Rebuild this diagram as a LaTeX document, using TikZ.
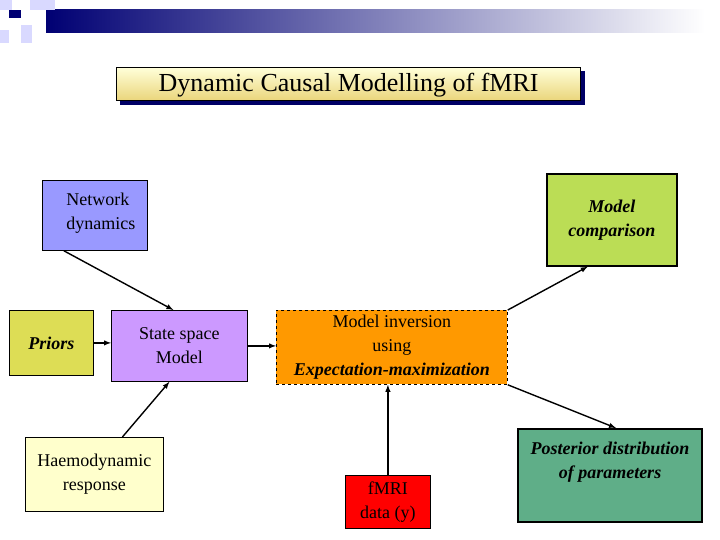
\documentclass[tikz,border=0pt]{standalone}
\usepackage{fontspec}
\setmainfont{Liberation Serif}
\begin{document}
\begin{tikzpicture}[x=1pt,y=-1pt,
  box/.style={draw=black,line width=0.8pt,anchor=north west,inner sep=0pt,align=center,
    font=\fontsize{18}{24}\selectfont},
  arr/.style={-latex,line width=1.4pt},
  bi/.style={font=\fontsize{18}{24}\selectfont\bfseries\itshape}]
\useasboundingbox (0,0) rectangle (720,540);
\fill[white] (0,0) rectangle (720,540);
% header decoration
\shade[left color=blue!45!black,right color=white] (46,10) rectangle (705,33);
\fill[blue!15!white] (0,0) rectangle (12,10);
\fill[blue!15!white] (30,0) rectangle (55,10);
\fill[blue!15!white] (21,25) rectangle (32,43);
\fill[blue!15!white] (0,30) rectangle (9,43);
\fill[blue!45!black] (9,10) rectangle (21,18);
% title
\fill[blue!40!black] (120,71) rectangle (585,105);
\node[box,line width=1.2pt,top color=yellow!15!white,bottom color=yellow!45!brown!60!white,
  minimum width=464pt,minimum height=33pt,font=\fontsize{26}{28}\selectfont,text depth=4pt] (title) at (116,67)
  {Dynamic Causal Modelling of fMRI};
% boxes
\node[box,fill={rgb,255:red,153;green,153;blue,255},minimum width=105pt,minimum height=70pt,
  align=left,text depth=8pt] (net) at (42,180) {\hspace*{12pt}Network\\\hspace*{12pt}dynamics};
\node[box,bi,line width=1.6pt,fill={rgb,255:red,187;green,221;blue,85},minimum width=130pt,minimum height=92pt] (comp) at (546,173) {Model\\comparison};
\node[box,bi,fill={rgb,255:red,221;green,221;blue,85},minimum width=84pt,minimum height=65pt] (pri) at (9,310) {Priors};
\node[box,fill={rgb,255:red,204;green,153;blue,255},minimum width=136pt,minimum height=71pt] (ss) at (111,310) {State space\\Model};
\node[box,dashed,fill={rgb,255:red,255;green,153;blue,0},minimum width=231pt,minimum height=74pt] (inv) at (276,310) {Model inversion\\using\\\textbf{\textit{Expectation-maximization}}};
\node[box,fill={rgb,255:red,255;green,255;blue,204},minimum width=138pt,minimum height=74pt] (hae) at (25,437) {Haemodynamic\\response};
\node[box,fill=red,minimum width=85pt,minimum height=53pt] (fmri) at (345,475) {\raisebox{-6pt}{\parbox{80pt}{\centering fMRI\\data (y)}}};
\node[box,bi,line width=2pt,fill={rgb,255:red,95;green,174;blue,136},minimum width=184pt,minimum height=93pt,text depth=30pt] (post) at (517,428) {Posterior distribution\\of parameters};
% arrows
\draw[arr] ([xshift=-31pt]net.south) -- ([xshift=-6pt]ss.north);
\draw[arr] (pri.east) -- (ss.west|-pri.east);
\draw[arr] ([xshift=28pt]hae.north) -- ([xshift=-10pt]ss.south);
\draw[arr] (ss.east) -- (inv.west|-ss.east);
\draw[arr] (inv.north east) -- ([xshift=-24pt]comp.south);
\draw[arr] (inv.south east) -- ([xshift=6pt]post.north);
\draw[arr] (fmri.north) -- (inv.south-|fmri.north);
\end{tikzpicture}
\end{document}
